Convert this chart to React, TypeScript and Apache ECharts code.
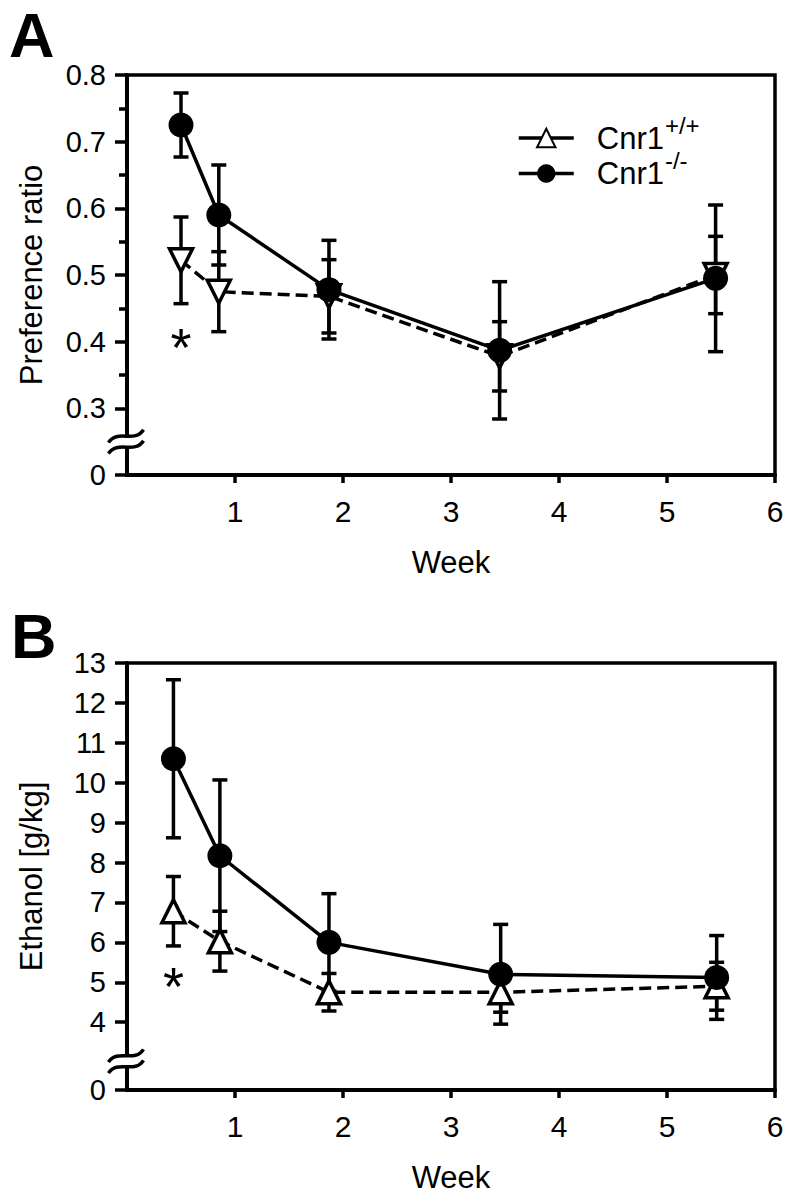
import React, { useEffect, useRef } from "react";
import * as echarts from "echarts";

// Panel A: preference ratio
const weeksA = [0.5, 0.85, 1.87, 3.45, 5.45];
const prefWt = [0.522, 0.475, 0.468, 0.378, 0.5];
const prefWtErr = [0.065, 0.06, 0.055, 0.052, 0.058];
const prefKo = [0.725, 0.59, 0.478, 0.387, 0.495];
const prefKoErr = [0.048, 0.075, 0.074, 0.103, 0.11];
const starA = [0.5, 0.41];
const breakA = 0.25;
const yTicksA = [0.2, 0.3, 0.4, 0.5, 0.6, 0.7, 0.8];

// Panel B: ethanol intake g/kg
const weeksB = [0.43, 0.86, 1.87, 3.46, 5.46];
const ethWt = [6.78, 6.03, 4.75, 4.75, 4.9];
const ethWtErr = [0.87, 0.75, 0.47, 0.5, 0.6];
const ethKo = [10.6, 8.17, 6.0, 5.2, 5.12];
const ethKoErr = [1.98, 1.9, 1.22, 1.25, 1.05];
const starB = [0.43, 5.2];
const breakB = 3.02;
const yTicksB = [2.3, 4, 5, 6, 7, 8, 9, 10, 11, 12, 13];

const xTicks = [1, 2, 3, 4, 5, 6];
const legendNames = ["Cnr1+/+", "Cnr1-/-"];

const FONT = "'Liberation Sans', Arial, Helvetica, sans-serif";
const LW = 3.5;

function errData(xs: number[], ys: number[], es: number[]) {
  return xs.map((x, i) => [x, ys[i] - es[i], ys[i] + es[i]]);
}

function errRender(params: any, api: any) {
  const x = api.value(0);
  const lo = api.coord([x, api.value(1)]);
  const hi = api.coord([x, api.value(2)]);
  const cw = 7.5;
  const st = { stroke: "#000", lineWidth: LW };
  return {
    type: "group",
    children: [
      { type: "line", shape: { x1: lo[0], y1: lo[1], x2: hi[0], y2: hi[1] }, style: st },
      { type: "line", shape: { x1: lo[0] - cw, y1: lo[1], x2: lo[0] + cw, y2: lo[1] }, style: st },
      { type: "line", shape: { x1: hi[0] - cw, y1: hi[1], x2: hi[0] + cw, y2: hi[1] }, style: st },
    ],
  };
}

function breakRender(params: any, api: any) {
  const p = api.coord([api.value(0), api.value(1)]);
  const cx = p[0] - 1;
  const cy = p[1];
  const wave = (dy: number) =>
    `M ${cx - 17.5} ${cy + 6.4 + dy} C ${cx - 8.7} ${cy - 7.4 + dy} ${cx + 8.7} ${cy + 7.4 + dy} ${cx + 17.5} ${cy - 6.4 + dy}`;
  return {
    type: "group",
    children: [
      {
        type: "polygon",
        shape: {
          points: [
            [cx - 17, cy + 1.1],
            [cx + 17, cy - 11.1],
            [cx + 17, cy - 0.5],
            [cx - 17, cy + 11.6],
          ],
        },
        style: { fill: "#fff" },
      },
      { type: "path", shape: { pathData: wave(-5.5) }, style: { stroke: "#000", lineWidth: 3.5, fill: "none" } },
      { type: "path", shape: { pathData: wave(5.5) }, style: { stroke: "#000", lineWidth: 3.5, fill: "none" } },
    ],
  };
}

function starRender(params: any, api: any) {
  const p = api.coord([api.value(0), api.value(1)]);
  const fs = 54;
  return {
    type: "text",
    style: {
      text: "*",
      x: p[0],
      y: p[1] + 0.22 * fs,
      fill: "#000",
      fontSize: fs,
      fontFamily: FONT,
      align: "center",
      verticalAlign: "middle",
    },
  };
}

function xAxisCfg(gridIndex: number) {
  return {
    type: "value",
    gridIndex,
    min: 0,
    max: 6,
    interval: 1,
    name: "Week",
    nameLocation: "middle",
    nameGap: 72,
    nameTextStyle: { fontSize: 31, color: "#000", fontFamily: FONT },
    axisLine: { show: true, lineStyle: { color: "#000", width: 4 } },
    axisTick: { show: true, customValues: xTicks, length: 8, lineStyle: { color: "#000", width: 3.5 } },
    axisLabel: { customValues: xTicks, fontSize: 30, color: "#000", fontFamily: FONT, margin: 21 },
    splitLine: { show: false },
  };
}

function lineSeries(name: string, xs: number[], ys: number[], wt: boolean, xi: number, rotate: number) {
  return {
    type: "line",
    name,
    xAxisIndex: xi,
    yAxisIndex: xi,
    data: xs.map((x, i) => [x, ys[i]]),
    symbol: wt ? "triangle" : "circle",
    symbolRotate: rotate,
    symbolSize: wt ? 23 : 25,
    showSymbol: true,
    itemStyle: wt
      ? { color: "#fff", borderColor: "#000", borderWidth: 3.5 }
      : { color: "#000", borderColor: "#000", borderWidth: 0 },
    lineStyle: { color: "#000", width: LW, type: wt ? [12, 6] : "solid" },
    z: wt ? 3 : 4,
    clip: false,
  };
}

export default function App() {
  const ref = useRef<HTMLDivElement>(null);
  useEffect(() => {
    if (!ref.current) return;
    const chart = echarts.init(ref.current, null, { renderer: "svg" });
    const option: any = {
      animation: false,
      backgroundColor: "#fff",
      textStyle: { fontFamily: FONT },
      grid: [
        { left: 127, top: 75, width: 648, height: 400, show: true, borderColor: "#000", borderWidth: 3.5, backgroundColor: "transparent" },
        { left: 127, top: 663, width: 648, height: 427, show: true, borderColor: "#000", borderWidth: 3.5, backgroundColor: "transparent" },
      ],
      xAxis: [xAxisCfg(0), xAxisCfg(1)],
      yAxis: [
        {
          type: "value",
          gridIndex: 0,
          min: 0.2,
          max: 0.8,
          interval: 0.1,
          name: "Preference ratio",
          nameLocation: "middle",
          nameGap: 80,
          nameTextStyle: { fontSize: 31, color: "#000", fontFamily: FONT },
          axisLine: { show: true, lineStyle: { color: "#000", width: 4 } },
          axisTick: { show: true, customValues: yTicksA, length: 12, lineStyle: { color: "#000", width: 3.5 } },
          minorTick: { show: true, splitNumber: 2, length: 8, lineStyle: { color: "#000", width: 3.5 } },
          axisLabel: {
            customValues: yTicksA,
            fontSize: 29,
            color: "#000",
            fontFamily: FONT,
            margin: 21,
            formatter: (v: number) => (v < 0.25 ? "0" : v.toFixed(1)),
          },
          splitLine: { show: false },
          minorSplitLine: { show: false },
        },
        {
          type: "value",
          gridIndex: 1,
          min: 2.3,
          max: 13,
          name: "Ethanol [g/kg]",
          nameLocation: "middle",
          nameGap: 80,
          nameTextStyle: { fontSize: 31, color: "#000", fontFamily: FONT },
          axisLine: { show: true, lineStyle: { color: "#000", width: 4 } },
          axisTick: { show: true, customValues: yTicksB, length: 12, lineStyle: { color: "#000", width: 3.5 } },
          axisLabel: {
            customValues: yTicksB,
            fontSize: 29,
            color: "#000",
            fontFamily: FONT,
            margin: 21,
            formatter: (v: number) => (v < 3 ? "0" : String(Math.round(v))),
          },
          splitLine: { show: false },
        },
      ],
      legend: {
        data: legendNames,
        orient: "vertical",
        left: 512,
        top: 108,
        itemWidth: 55,
        itemHeight: 23,
        itemGap: -5,
        symbolRotate: 0,
        lineStyle: { type: "solid", width: 3.5 },
        formatter: (name: string) => (name === legendNames[0] ? "{a|Cnr1}{s|+/+}" : "{a|Cnr1}{s|-/-}"),
        textStyle: {
          rich: {
            a: { fontSize: 31, lineHeight: 50, fontFamily: FONT, color: "#000", padding: [0, 0, 0, 18] },
            s: { fontSize: 24, lineHeight: 24, fontFamily: FONT, color: "#000", verticalAlign: "top", padding: [0, 0, 0, 1] },
          },
        },
      },
      graphic: [
        { type: "text", left: 9, top: 0, style: { text: "A", fontSize: 63, lineHeight: 70, fontWeight: "bold", fontFamily: FONT, fill: "#000" } },
        { type: "text", left: 11, top: 601, style: { text: "B", fontSize: 63, lineHeight: 70, fontWeight: "bold", fontFamily: FONT, fill: "#000" } },
      ],
      series: [
        { type: "custom", name: "errA_wt", xAxisIndex: 0, yAxisIndex: 0, data: errData(weeksA, prefWt, prefWtErr), renderItem: errRender, encode: { x: 0, y: [1, 2] }, z: 2, silent: true },
        { type: "custom", name: "errA_ko", xAxisIndex: 0, yAxisIndex: 0, data: errData(weeksA, prefKo, prefKoErr), renderItem: errRender, encode: { x: 0, y: [1, 2] }, z: 2, silent: true },
        lineSeries(legendNames[0], weeksA, prefWt, true, 0, 180),
        lineSeries(legendNames[1], weeksA, prefKo, false, 0, 0),
        { type: "custom", name: "starA", xAxisIndex: 0, yAxisIndex: 0, data: [starA], renderItem: starRender, z: 5, silent: true },
        { type: "custom", name: "breakA", xAxisIndex: 0, yAxisIndex: 0, data: [[0, breakA]], renderItem: breakRender, z: 6, silent: true, clip: false },

        { type: "custom", name: "errB_wt", xAxisIndex: 1, yAxisIndex: 1, data: errData(weeksB, ethWt, ethWtErr), renderItem: errRender, encode: { x: 0, y: [1, 2] }, z: 2, silent: true },
        { type: "custom", name: "errB_ko", xAxisIndex: 1, yAxisIndex: 1, data: errData(weeksB, ethKo, ethKoErr), renderItem: errRender, encode: { x: 0, y: [1, 2] }, z: 2, silent: true },
        lineSeries("B " + legendNames[0], weeksB, ethWt, true, 1, 0),
        lineSeries("B " + legendNames[1], weeksB, ethKo, false, 1, 0),
        { type: "custom", name: "starB", xAxisIndex: 1, yAxisIndex: 1, data: [starB], renderItem: starRender, z: 5, silent: true },
        { type: "custom", name: "breakB", xAxisIndex: 1, yAxisIndex: 1, data: [[0, breakB]], renderItem: breakRender, z: 6, silent: true, clip: false },
      ],
    };
    chart.setOption(option);
    return () => chart.dispose();
  }, []);
  return (
    <div
      ref={ref}
      style={{ position: "absolute", left: 0, top: 0, width: 796, height: 1199, background: "#fff" }}
    />
  );
}
